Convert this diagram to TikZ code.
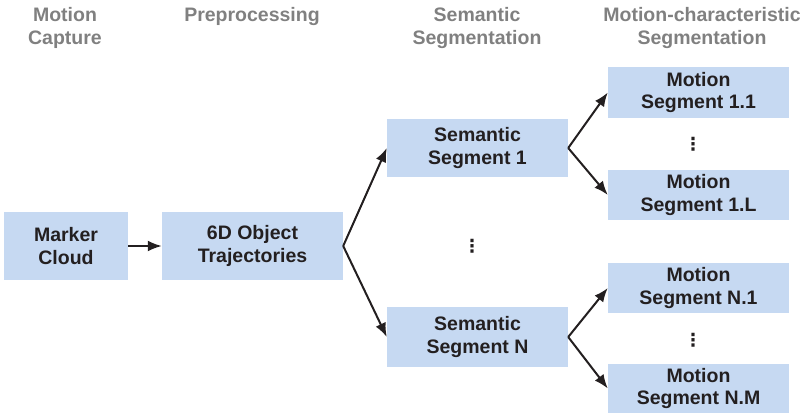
\documentclass[tikz,border=0pt]{standalone}
\usepackage{fontspec}
\setmainfont{Liberation Sans}
\newfontfamily\dotsfont{DejaVu Sans}
\usetikzlibrary{arrows.meta}
\definecolor{boxblue}{RGB}{198,217,242}
\definecolor{headgray}{RGB}{128,128,128}
\definecolor{textdark}{RGB}{35,31,32}
\tikzset{
  stage/.style={fill=boxblue,text=textdark,align=center,inner sep=0pt,
    font=\fontsize{19.5}{22.5}\selectfont\bfseries},
  head/.style={text=headgray,align=center,inner sep=0pt,anchor=north,
    font=\fontsize{19.5}{22.5}\selectfont\bfseries},
  arr/.style={draw=textdark,line width=2pt,-{Latex[length=14pt,width=11pt]}},
  more/.style={text=textdark,inner sep=0pt,font=\dotsfont\fontsize{18}{20}\selectfont\bfseries}
}
\begin{document}
\begin{tikzpicture}[x=1pt,y=-1pt]
  \useasboundingbox (0,0) rectangle (808,414);
  % column headers
  \node[head] (hcap) at (65,7.5) {Motion\\Capture};
  \node[head] (hpre) at (252,7.5) {Preprocessing};
  \node[head] (hsem) at (477,7.5) {Semantic\\Segmentation};
  \node[head] (hmot) at (702,7.5) {Motion-characteristic\\Segmentation};
  % boxes
  \node[stage,minimum width=124pt,minimum height=68pt] (cloud) at (66,246) {Marker\\Cloud};
  \node[stage,minimum width=181pt,minimum height=68pt] (traj) at (252.5,246) {6D Object\\Trajectories};
  \node[stage,minimum width=181pt,minimum height=58pt] (sem1) at (477.5,148) {Semantic\\Segment 1};
  \node[stage,minimum width=181pt,minimum height=60pt] (semN) at (477.5,337) {Semantic\\Segment N};
  \node[stage,minimum width=181pt,minimum height=51pt] (mot11) at (698.5,92.5) {Motion\\Segment 1.1};
  \node[stage,minimum width=181pt,minimum height=50pt] (mot1L) at (698.5,195) {Motion\\Segment 1.L};
  \node[stage,minimum width=181pt,minimum height=50pt] (motN1) at (698.5,288) {Motion\\Segment N.1};
  \node[stage,minimum width=181pt,minimum height=49pt] (motNM) at (698.5,388.5) {Motion\\Segment N.M};
  % dots
  \node[more] (dsem) at (472,246) {⋮};
  \node[more] (dm1) at (693,144) {⋮};
  \node[more] (dmN) at (693,340) {⋮};
  % arrows
  \draw[arr] (cloud) -- (traj);
  \draw[arr] (traj.east) -- (sem1.west);
  \draw[arr] (traj.east) -- (semN.west);
  \draw[arr] (sem1.east) -- (mot11.west);
  \draw[arr] (sem1.east) -- (mot1L.west);
  \draw[arr] (semN.east) -- (motN1.west);
  \draw[arr] (semN.east) -- (motNM.west);
\end{tikzpicture}
\end{document}
